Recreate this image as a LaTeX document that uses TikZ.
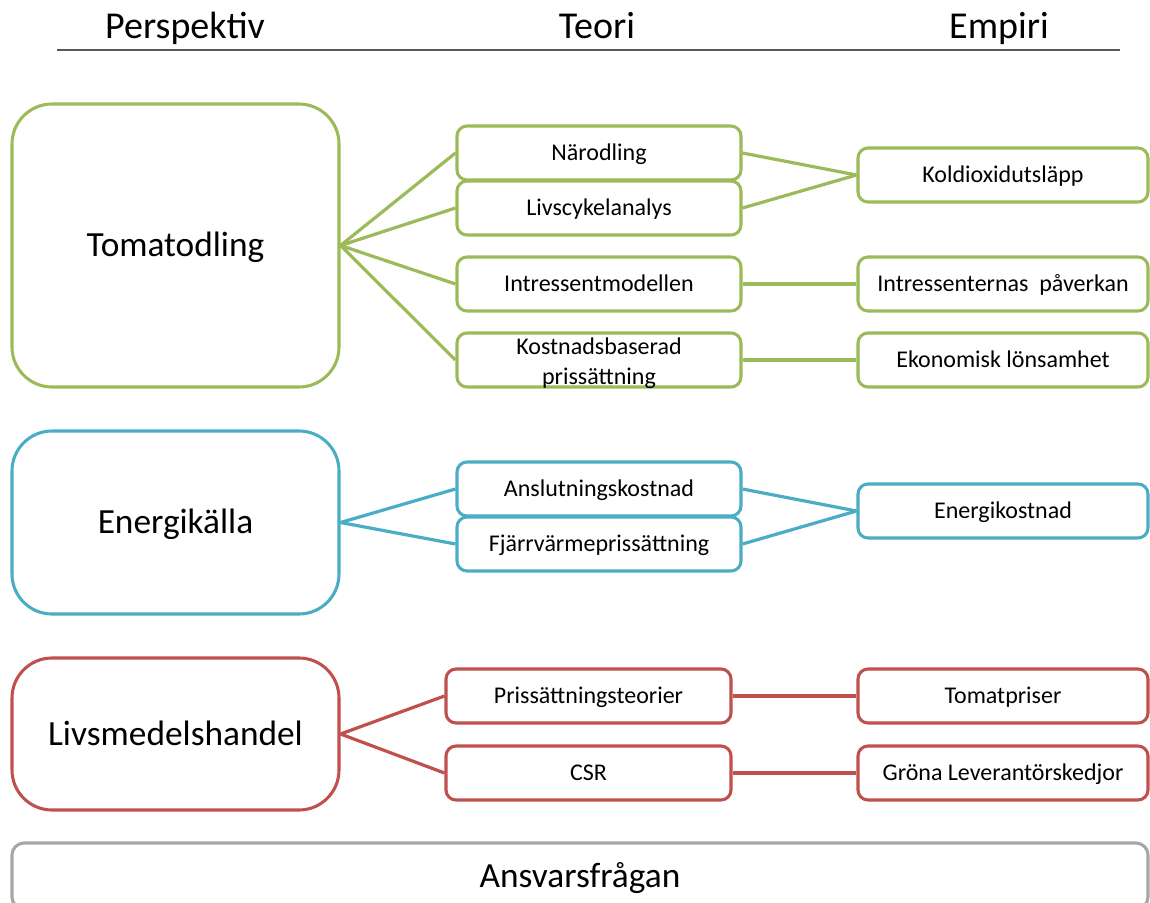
\documentclass[tikz,border=0pt]{standalone}
\usepackage{fontspec}
\setmainfont{Carlito}
\definecolor{grn}{HTML}{9BBB59}
\definecolor{blu}{HTML}{4BACC6}
\definecolor{rd}{HTML}{C0504D}
\definecolor{gry}{HTML}{A6A6A6}
\definecolor{hdr}{HTML}{595959}
\begin{document}
\begin{tikzpicture}[x=0.75pt,y=-0.75pt,
  box/.style={draw, line width=2.3pt, fill=white, align=center, inner sep=0pt},
  small/.style={box, rounded corners=7.5pt, font=\fontsize{18}{22.5}\selectfont, minimum height=40.5pt, text height=12.5pt, text depth=1pt},
  teori/.style={small, minimum width=213pt},
  empiri/.style={small, minimum width=217.5pt},
  big/.style={box, rounded corners=30pt, minimum width=245.25pt, font=\fontsize{26.5}{31}\selectfont, text height=18pt, text depth=1pt},
  conn/.style={line width=2.4pt},
  head/.style={font=\fontsize{28.5}{33}\selectfont, anchor=base}]
\useasboundingbox (0,0) rectangle (1150,903);
% header
\node[head] (hp) at (185,38) {Perspektiv};
\node[head] (ht) at (597,38) {Teori};
\node[head] (he) at (999,38) {Empiri};
\coordinate (hl) at (57,50);
\coordinate (hr) at (1120,50);
\draw[hdr, line width=1.6pt] (hl) -- (hr);

% Tomatodling (green)
\begin{scope}[every node/.append style={draw=grn}]
\node[big, minimum height=212.25pt] (tom) at (175.5,245.5) {Tomatodling};
\node[teori] (nar) at (599,153) {Närodling};
\node[teori] (liv) at (599,208) {Livscykelanalys};
\node[teori] (int) at (599,284) {Intressentmodellen};
\node[teori] (kos) at (599,360) {};
\node[empiri] (kol) at (1003,175) {Koldioxidutsläpp};
\node[empiri] (ipa) at (1003,284) {Intressenternas\ \ påverkan};
\node[empiri] (eko) at (1003,360) {Ekonomisk lönsamhet};
\end{scope}
\node[align=center, inner sep=0pt, font=\fontsize{18}{22.5}\selectfont, yshift=-2.5pt] (kostxt) at (kos.center) {Kostnadsbaserad\\prissättning};
\draw[conn, grn] (tom.east) -- (nar.west);
\draw[conn, grn] (tom.east) -- (liv.west);
\draw[conn, grn] (tom.east) -- (int.west);
\draw[conn, grn] (tom.east) -- (kos.west);
\draw[conn, grn] (nar.east) -- (kol.west);
\draw[conn, grn] (liv.east) -- (kol.west);
\draw[conn, grn] (int.east) -- (ipa.west);
\draw[conn, grn] (kos.east) -- (eko.west);

% Energikälla (blue)
\begin{scope}[every node/.append style={draw=blu}]
\node[big, minimum height=137.25pt] (ene) at (175.5,522.5) {Energikälla};
\node[teori] (ans) at (599,489) {Anslutningskostnad};
\node[teori] (fja) at (599,544) {Fjärrvärmeprissättning};
\node[empiri] (enk) at (1003,511) {Energikostnad};
\end{scope}
\draw[conn, blu] (ene.east) -- (ans.west);
\draw[conn, blu] (ene.east) -- (fja.west);
\draw[conn, blu] (ans.east) -- (enk.west);
\draw[conn, blu] (fja.east) -- (enk.west);

% Livsmedelshandel (red)
\begin{scope}[every node/.append style={draw=rd}]
\node[big, minimum height=114pt] (lmh) at (175.5,734) {Livsmedelshandel};
\node[small, minimum width=213.75pt] (pst) at (588.5,696) {Prissättningsteorier};
\node[small, minimum width=213.75pt] (csr) at (588.5,773) {CSR};
\node[empiri] (tpr) at (1003,696) {Tomatpriser};
\node[empiri] (grl) at (1003,773) {Gröna Leverantörskedjor};
\end{scope}
\draw[conn, rd] (lmh.east) -- (pst.west);
\draw[conn, rd] (lmh.east) -- (csr.west);
\draw[conn, rd] (pst.east) -- (tpr.west);
\draw[conn, rd] (csr.east) -- (grl.west);

% Ansvarsfrågan (gray)
\node[box, draw=gry, rounded corners=9pt, minimum width=852pt, minimum height=49.5pt,
  font=\fontsize{26.5}{31}\selectfont, text height=18pt, text depth=1pt] (ansv) at (580,876) {Ansvarsfrågan};
\end{tikzpicture}
\end{document}
